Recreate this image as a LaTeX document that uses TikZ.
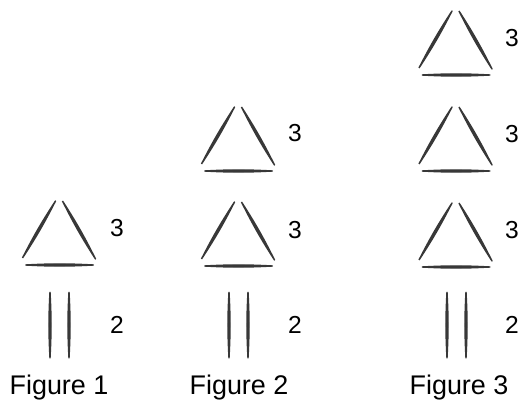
\documentclass[tikz,border=0pt]{standalone}
\usepackage{fontspec}
\setmainfont{Liberation Sans}
\begin{document}
\begin{tikzpicture}[x=0.03cm, y=-0.03cm,
    stick/.style={fill=black!78, draw=black!78, line width=1.2pt, line join=round},
    num/.style={font=\fontsize{21}{25}\selectfont},
    figlabel/.style={font=\fontsize{23}{28}\selectfont, anchor=base},
    tri/.pic={
      \filldraw[stick] (-37,-7) to[bend left=3] (-4,-64) to[bend left=3] (-37,-7);
      \filldraw[stick] (3,-64) to[bend left=3] (36,-6) to[bend left=3] (3,-64);
      \filldraw[stick] (-34,0) to[bend left=3] (34,0) to[bend left=3] (-34,0);
    },
    pair/.pic={
      \filldraw[stick] (-9.5,292) to[bend left=3] (-9.5,358) to[bend left=3] (-9.5,292);
      \filldraw[stick] (9.5,292) to[bend left=3] (9.5,358) to[bend left=3] (9.5,292);
    }
]
    \useasboundingbox (0,0) rectangle (522,400);
    % figure 1
    \pic at (59.5,265) {tri};
    \pic at (59.5,0) {pair};
    \node[num] (a3) at (117,228) {3};
    \node[num] (a2) at (117,325) {2};
    \node[figlabel] (fig1) at (59,395) {Figure 1};
    % figure 2
    \pic at (238.5,171) {tri};
    \pic at (238.5,266) {tri};
    \pic at (238.5,0) {pair};
    \node[num] (b3a) at (295,133) {3};
    \node[num] (b3b) at (295,230) {3};
    \node[num] (b2) at (295,325) {2};
    \node[figlabel] (fig2) at (239,395) {Figure 2};
    % figure 3
    \pic at (456,75) {tri};
    \pic at (456,171) {tri};
    \pic at (456,267) {tri};
    \pic at (456.5,0) {pair};
    \node[num] (c3a) at (512,38) {3};
    \node[num] (c3b) at (512,134) {3};
    \node[num] (c3c) at (512,230) {3};
    \node[num] (c2) at (512,325) {2};
    \node[figlabel] (fig3) at (459,395) {Figure 3};
\end{tikzpicture}
\end{document}
